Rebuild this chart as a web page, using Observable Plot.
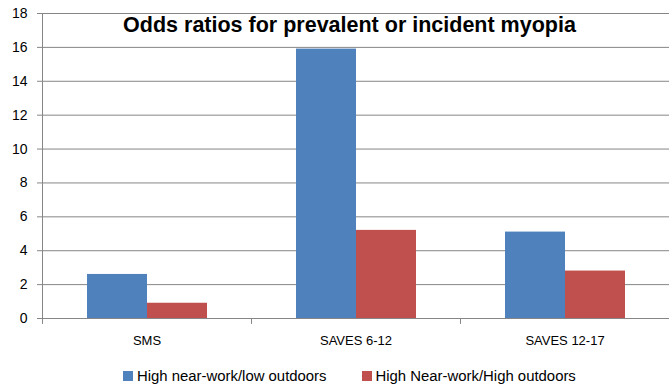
<!DOCTYPE html>
<html><head><meta charset="utf-8">
<script src="https://cdn.jsdelivr.net/npm/d3@7"></script>
<script src="https://cdn.jsdelivr.net/npm/@observablehq/plot@0.6"></script>
<style>
html,body{margin:0;padding:0;background:#fff;}
body{width:669px;height:386px;overflow:hidden;position:relative;font-family:"Liberation Sans",Arial,sans-serif;color:#000;}
#chart svg{display:block;}
#title{position:absolute;left:0;width:699px;top:13px;text-align:center;font-weight:bold;font-size:21.5px;line-height:25px;white-space:nowrap;}
#legend{display:flex;align-items:center;padding-left:123px;padding-top:13px;height:21px;font-size:14.9px;line-height:16px;white-space:nowrap;}
#legend .sw{width:10px;height:10px;margin-right:4px;flex:none;}
#legend .item{display:flex;align-items:center;margin-right:35px;}
</style></head><body>
<div id="chart"></div>
<div id="title"></div>
<div id="legend"></div>
<script>
const title = "Odds ratios for prevalent or incident myopia";
const categories = ["SMS", "SAVES 6-12", "SAVES 12-17"];
const seriesNames = ["High near-work/low outdoors", "High Near-work/High outdoors"];
const lowOutdoors = [2.6, 15.9, 5.1];
const highOutdoors = [0.9, 5.2, 2.8];
const yTicks = [0, 2, 4, 6, 8, 10, 12, 14, 16, 18];
const colors = ["#4F81BD", "#C0504D"];
const gridColor = "#868686";

const data = categories.flatMap((c, i) => [
  {category: c, series: seriesNames[0], value: lowOutdoors[i]},
  {category: c, series: seriesNames[1], value: highOutdoors[i]}
]);

const marks = [
  Plot.ruleY(yTicks, {stroke: gridColor, strokeWidth: 1}),
  Plot.frame({anchor: "left", facetAnchor: "left", stroke: gridColor}),
  Plot.vector(categories, {fx: d => d, frameAnchor: "bottom-left", length: 5, rotate: 180, anchor: "start", stroke: gridColor, strokeWidth: 1,
    shape: {draw(ctx, l) { ctx.moveTo(0, 0); ctx.lineTo(0, -l); }}}),
  Plot.barY(data, {fx: "category", x: "series", y: "value", fill: "series"}),
  Plot.ruleY([0], {stroke: gridColor, strokeWidth: 1}),
  Plot.axisY({ticks: yTicks, tickSize: 5, tickPadding: 10, stroke: gridColor, fontSize: 14, label: null}),
  Plot.axisFx({anchor: "bottom", tickSize: 0, tickPadding: 17, fontSize: 13, label: null})
];

const plot = Plot.plot({
  width: 669, height: 352,
  marginTop: 13, marginBottom: 34, marginLeft: 42, marginRight: 0,
  style: {fontFamily: "Liberation Sans, Arial, sans-serif", color: "#000", background: "#fff", overflow: "visible"},
  fx: {domain: categories, padding: 0, label: null},
  x: {domain: seriesNames, paddingInner: 0, paddingOuter: 0.74, axis: null},
  y: {domain: [0, 18], label: null},
  color: {domain: seriesNames, range: colors},
  marks
});
document.getElementById("chart").appendChild(plot);
document.getElementById("title").textContent = title;

const legend = document.getElementById("legend");
seriesNames.forEach((s, i) => {
  const item = document.createElement("div");
  item.className = "item";
  const sw = document.createElement("span");
  sw.className = "sw";
  sw.style.background = colors[i];
  const t = document.createElement("span");
  t.textContent = s;
  item.appendChild(sw); item.appendChild(t);
  legend.appendChild(item);
});
</script>
</body></html>
